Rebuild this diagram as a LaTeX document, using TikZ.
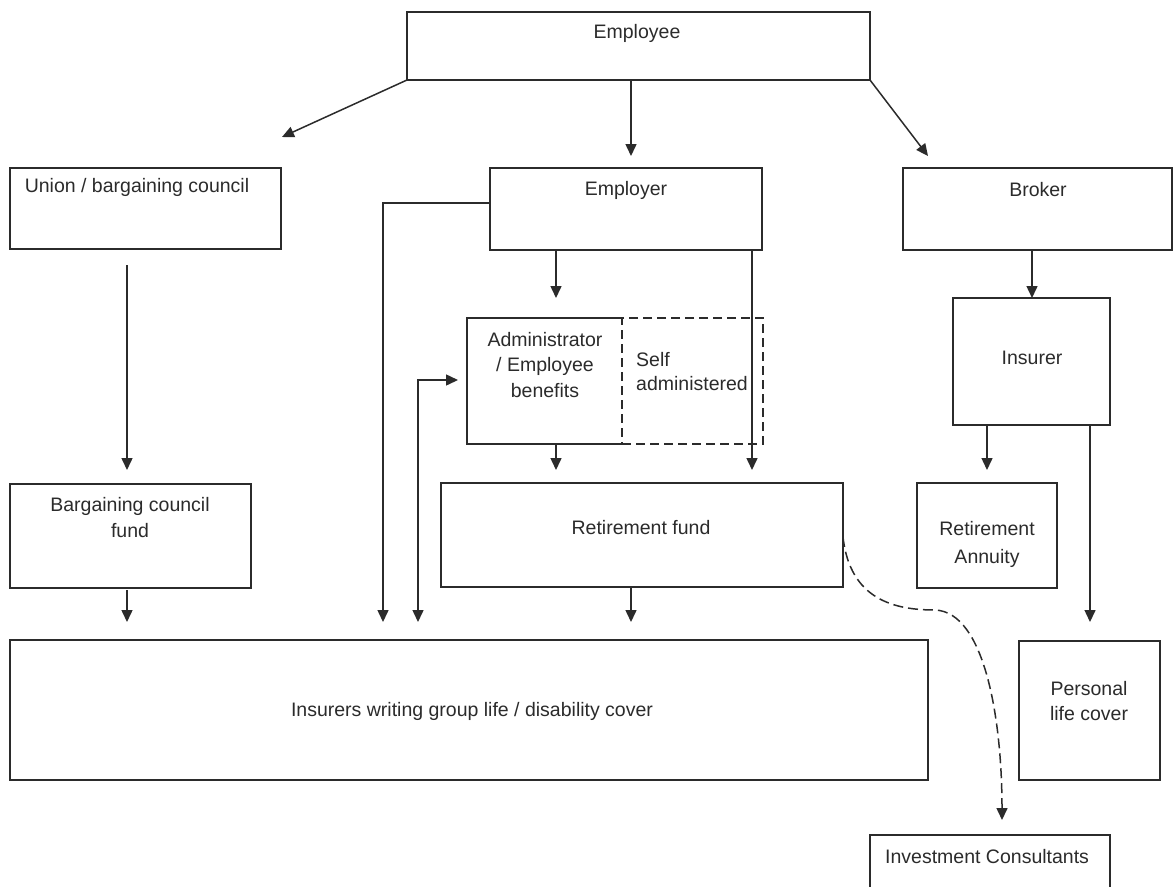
\documentclass[tikz,border=0pt]{standalone}
\usepackage{fontspec}
\setmainfont{Liberation Sans}
\usetikzlibrary{arrows.meta}
\definecolor{ink}{HTML}{2B2B2B}
\begin{document}
\begin{tikzpicture}[x=1pt,y=-1pt,
 box/.style={draw=ink, line width=1.6pt, inner sep=0pt, outer sep=0pt},
 txt/.style={font=\fontsize{19.5}{25.5}\selectfont, align=center, inner sep=0pt, text=ink},
 arr/.style={draw=ink, line width=1.5pt, -{Triangle[length=12pt,width=11pt]}},
 dashedarr/.style={draw=ink, line width=1.5pt, dash pattern=on 10pt off 5pt, -{Triangle[length=12pt,width=11pt]}},
]
\useasboundingbox (0,0) rectangle (1174,886);
\clip (0,0) rectangle (1174,886);
% boxes
\node[box, minimum width=463pt, minimum height=68pt] (employee) at (638.5,46) {};
\node[box, minimum width=271pt, minimum height=81pt] (union) at (145.5,208.5) {};
\node[box, minimum width=272pt, minimum height=82pt] (employer) at (626,209) {};
\node[box, minimum width=269pt, minimum height=82pt] (broker) at (1037.5,209) {};
\node[inner sep=0pt, outer sep=0pt, minimum width=155pt, minimum height=126pt] (admin) at (544.5,381) {};
\draw[draw=ink, line width=1.6pt] (admin.north east) -- (admin.north west) -- (admin.south west) -- (admin.south east);
\node[box, dash pattern=on 9pt off 5pt, minimum width=141pt, minimum height=126pt] (self) at (692.5,381) {};
\node[box, minimum width=157pt, minimum height=127pt] (insurer) at (1031.5,361.5) {};
\node[box, minimum width=241pt, minimum height=104pt] (bcf) at (130.5,536) {};
\node[box, minimum width=402pt, minimum height=104pt] (rfund) at (642,535) {};
\node[box, minimum width=140pt, minimum height=105pt] (ra) at (987,535.5) {};
\node[box, minimum width=918pt, minimum height=140pt] (group) at (469,710) {};
\node[box, minimum width=141pt, minimum height=139pt] (plc) at (1089.5,710.5) {};
\node[box, minimum width=240pt, minimum height=65pt] (ic) at (990,867.5) {};
% texts
\node[txt] (tEmployee) at (637,33) {Employee};
\node[txt] (tUnion) at (137,187) {Union / bargaining council};
\node[txt] (tEmployer) at (626,190) {Employer};
\node[txt] (tBroker) at (1038,190) {Broker};
\node[txt] (tAdmin) at (545,365) {Administrator\\/ Employee\\benefits};
\node[txt, align=left, anchor=west, font=\fontsize{19.5}{23.5}\selectfont] (tSelf) at (636,371.5) {Self\\administered};
\node[txt] (tInsurer) at (1032,358) {Insurer};
\node[txt] (tBcf) at (130,517.5) {Bargaining council\\fund};
\node[txt] (tRfund) at (641,528) {Retirement fund};
\node[txt, font=\fontsize{19.5}{28}\selectfont] (tRa) at (987,544) {Retirement\\Annuity};
\node[txt] (tGroup) at (472,711) {Insurers writing group life / disability cover};
\node[txt] (tPlc) at (1089,701) {Personal\\life cover};
\node[txt, anchor=west] (tIc) at (885,857) {Investment Consultants};
% free ends
\coordinate (cUnion) at (282,137);
\coordinate (cEmployer) at (631,156);
\coordinate (cBroker) at (928,156);
\coordinate (cBcf) at (127,470);
\coordinate (cAdmin) at (556,298);
\coordinate (cRfundL) at (556,470);
\coordinate (cRfundR) at (752,470);
\coordinate (cGroupA) at (383,622);
\coordinate (cGroupB) at (418,622);
\coordinate (cAdminIn) at (458,380);
\coordinate (cGroupC) at (127,622);
\coordinate (cGroupD) at (631,622);
\coordinate (cInsurer) at (1032,298);
\coordinate (cRa) at (987,470);
\coordinate (cPlc) at (1090,622);
\coordinate (cIc) at (1002,820);
% connectors
\draw[arr] (employee.south west) -- (cUnion);
\draw[arr] (employee.south -| cEmployer) -- (cEmployer);
\draw[arr] (employee.south east) -- (cBroker);
\draw[arr] (union.south -| cBcf) ++(0,16) -- (cBcf);
\draw[arr] (employer.south -| cAdmin) -- (cAdmin);
\draw[arr] (employer.south -| cRfundR) -- (cRfundR);
\draw[arr] (employer.west |- 0,203) -- (cGroupA |- 0,203) -- (cGroupA);
\draw[arr, {Triangle[length=12pt,width=11pt]}-{Triangle[length=12pt,width=11pt]}] (cAdminIn) -- (cGroupB |- cAdminIn) -- (cGroupB);
\draw[arr] (admin.south -| cRfundL) -- (cRfundL);
\draw[arr] (bcf.south -| cGroupC) ++(0,2) -- (cGroupC);
\draw[arr] (rfund.south -| cGroupD) -- (cGroupD);
\draw[arr] (broker.south -| cInsurer) -- (cInsurer);
\draw[arr] (insurer.south -| cRa) -- (cRa);
\draw[arr] (insurer.south -| cPlc) -- (cPlc);
\draw[dashedarr] (rfund.east |- 0,537) .. controls (850,600) and (895,610) .. (935,610) .. controls (985,612) and (1002,720) .. (cIc);
\end{tikzpicture}
\end{document}
